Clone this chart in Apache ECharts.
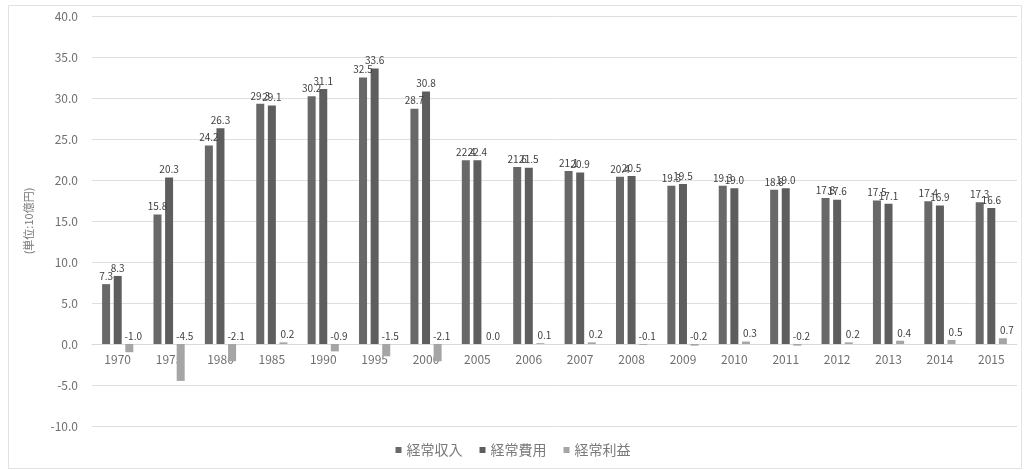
<!DOCTYPE html>
<html>
<head>
<meta charset="utf-8">
<title>経常収入・経常費用・経常利益</title>
<script src="https://cdn.jsdelivr.net/npm/echarts@6/dist/echarts.min.js"></script>
<style>
  html, body { margin: 0; padding: 0; background: #ffffff; }
  #chart { width: 1026px; height: 470px; }
</style>
</head>
<body>
<div id="chart"></div>
<script>
// 年度
const years = ['1970', '1975', '1980', '1985', '1990', '1995', '2000', '2005', '2006', '2007',
  '2008', '2009', '2010', '2011', '2012', '2013', '2014', '2015'];
// 経常収入 (10億円)
const revenue = [7.3, 15.8, 24.2, 29.3, 30.2, 32.5, 28.7, 22.4, 21.6, 21.1,
  20.4, 19.3, 19.3, 18.8, 17.8, 17.5, 17.4, 17.3];
// 経常費用 (10億円)
const expense = [8.3, 20.3, 26.3, 29.1, 31.1, 33.6, 30.8, 22.4, 21.5, 20.9,
  20.5, 19.5, 19.0, 19.0, 17.6, 17.1, 16.9, 16.6];
// 経常利益 (10億円)
const profit = [-1.0, -4.5, -2.1, 0.2, -0.9, -1.5, -2.1, 0.0, 0.1, 0.2,
  -0.1, -0.2, 0.3, -0.2, 0.2, 0.4, 0.5, 0.7];
const seriesNames = ['経常収入', '経常費用', '経常利益'];
const unitLabel = '(単位:10億円)';

const font = '"Noto Sans CJK JP", "Noto Sans", sans-serif';
const yMin = -10, yMax = 40;
const gridTop = 16, gridBottom = 44, chartHeight = 470;

// the category axis sits on the zero line: shift it up from the grid bottom
const plotHeight = chartHeight - gridTop - gridBottom;
const zeroOffset = -plotHeight * (0 - yMin) / (yMax - yMin);

function barSeries(name, data, color, labelOffset) {
  return {
    name: name,
    type: 'bar',
    data: data,
    barWidth: 8,
    barGap: '45%',
    itemStyle: { color: color },
    label: {
      show: true,
      position: 'top',
      distance: 3,
      offset: labelOffset,
      fontSize: 10,
      fontFamily: font,
      color: '#404040',
      formatter: p => p.value.toFixed(1)
    }
  };
}

const chart = echarts.init(document.getElementById('chart'), null, { renderer: 'canvas' });
chart.setOption({
  backgroundColor: '#ffffff',
  animation: false,
  textStyle: { fontFamily: font },
  graphic: [{
    type: 'rect',
    left: 6, top: 3,
    shape: { width: 1013, height: 463 },
    style: { fill: 'none', stroke: '#e2e2e2', lineWidth: 1 },
    silent: true
  }],
  grid: { left: 92, right: 9, top: gridTop, bottom: gridBottom },
  legend: {
    data: seriesNames,
    bottom: 8,
    left: 'center',
    icon: 'rect',
    itemWidth: 6,
    itemHeight: 6,
    itemGap: 17,
    textStyle: { fontSize: 14, color: '#7a7a7a', fontFamily: font }
  },
  xAxis: {
    type: 'category',
    data: years,
    position: 'bottom',
    offset: zeroOffset,
    axisLine: { onZero: false, lineStyle: { color: '#d9d9d9' } },
    axisTick: { show: false },
    axisLabel: { fontSize: 12, color: '#6f6f6f', margin: 9, fontFamily: font }
  },
  yAxis: {
    type: 'value',
    min: yMin,
    max: yMax,
    interval: 5,
    name: unitLabel,
    nameLocation: 'middle',
    nameRotate: 90,
    nameGap: 58,
    nameTextStyle: { fontSize: 11, color: '#7a7a7a', fontFamily: font },
    axisLine: { show: false },
    axisTick: { show: false },
    splitLine: { lineStyle: { color: '#dedede' } },
    axisLabel: {
      fontSize: 12, color: '#6f6f6f', margin: 14, fontFamily: font,
      formatter: v => v.toFixed(1)
    }
  },
  series: [
    barSeries(seriesNames[0], revenue, '#686868', [0, 0]),
    barSeries(seriesNames[1], expense, '#5e5e5e', [0, 0]),
    barSeries(seriesNames[2], profit, '#a5a5a5', [4, 0])
  ]
});
</script>
</body>
</html>
